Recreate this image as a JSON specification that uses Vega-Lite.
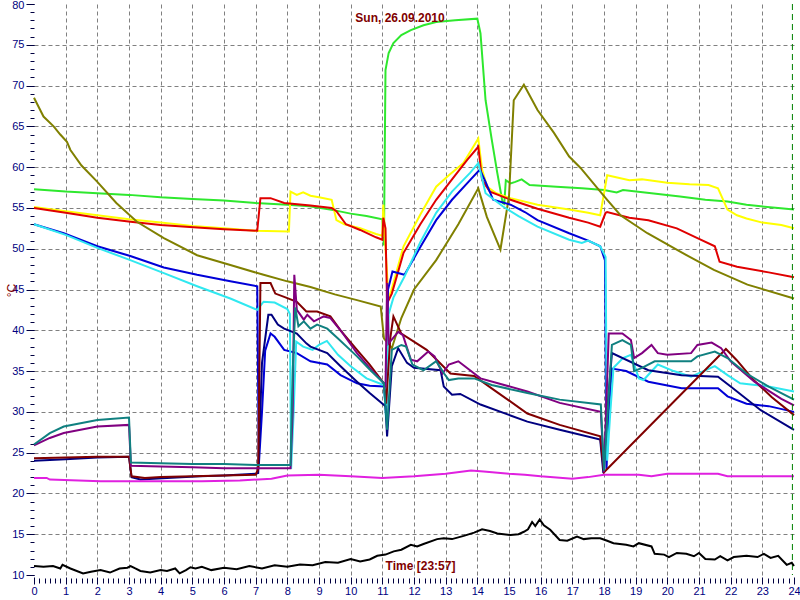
{
"$schema":"https://vega.github.io/schema/vega-lite/v6.json",
"width":760,"height":571,
"autosize":{"type":"none"},
"padding":{"left":34,"top":4,"right":6,"bottom":25},
"background":"white",
"config":{"view":{"stroke":null}},
"title":{"text":"Sun, 26.09.2010","color":"#800000","font":"Liberation Sans","fontSize":12,"fontWeight":"bold","anchor":"middle","offset":-20,"dx":-14,"dy":18,"baseline":"bottom"},
"datasets":{"d":[
{"s":"green","t":0,"v":57.3},{"s":"green","t":1,"v":57.0},{"s":"green","t":2,"v":56.8},{"s":"green","t":3,"v":56.6},{"s":"green","t":4,"v":56.3},{"s":"green","t":5,"v":56.1},{"s":"green","t":6,"v":55.9},{"s":"green","t":7,"v":55.6},{"s":"green","t":8,"v":55.4},{"s":"green","t":8.7,"v":55.2},{"s":"green","t":9.5,"v":54.7},{"s":"green","t":10,"v":54.3},{"s":"green","t":10.5,"v":54.0},{"s":"green","t":11.0,"v":53.6},{"s":"green","t":11.05,"v":50.4},{"s":"green","t":11.1,"v":71.9},{"s":"green","t":11.2,"v":74.0},{"s":"green","t":11.35,"v":75.2},{"s":"green","t":11.6,"v":76.2},{"s":"green","t":11.9,"v":76.8},{"s":"green","t":12.3,"v":77.4},{"s":"green","t":12.7,"v":77.8},{"s":"green","t":13.3,"v":78.0},{"s":"green","t":14.0,"v":78.2},{"s":"green","t":14.1,"v":76.4},{"s":"green","t":14.26,"v":68.2},{"s":"green","t":14.45,"v":63.5},{"s":"green","t":14.63,"v":59.3},{"s":"green","t":14.8,"v":55.6},{"s":"green","t":14.85,"v":55.5},{"s":"green","t":14.9,"v":58.4},{"s":"green","t":15.05,"v":58.0},{"s":"green","t":15.2,"v":58.2},{"s":"green","t":15.4,"v":58.5},{"s":"green","t":15.65,"v":57.8},{"s":"green","t":16.5,"v":57.6},{"s":"green","t":17.3,"v":57.4},{"s":"green","t":18.0,"v":57.2},{"s":"green","t":18.4,"v":56.9},{"s":"green","t":18.6,"v":57.2},{"s":"green","t":19.5,"v":56.8},{"s":"green","t":20.4,"v":56.4},{"s":"green","t":21.2,"v":56.0},{"s":"green","t":21.9,"v":55.8},{"s":"green","t":22.5,"v":55.4},{"s":"green","t":22.95,"v":55.2},{"s":"green","t":23.5,"v":55.0},{"s":"green","t":24,"v":54.8},
{"s":"yellow","t":0,"v":55.1},{"s":"yellow","t":1,"v":54.6},{"s":"yellow","t":2,"v":54.1},{"s":"yellow","t":3,"v":53.6},{"s":"yellow","t":4,"v":53.2},{"s":"yellow","t":5,"v":52.8},{"s":"yellow","t":6,"v":52.5},{"s":"yellow","t":7,"v":52.2},{"s":"yellow","t":8.05,"v":52.1},{"s":"yellow","t":8.1,"v":57.0},{"s":"yellow","t":8.3,"v":56.6},{"s":"yellow","t":8.5,"v":56.9},{"s":"yellow","t":8.73,"v":56.5},{"s":"yellow","t":9.0,"v":56.3},{"s":"yellow","t":9.4,"v":56.0},{"s":"yellow","t":9.55,"v":53.5},{"s":"yellow","t":9.8,"v":53.0},{"s":"yellow","t":10.3,"v":52.5},{"s":"yellow","t":10.8,"v":51.8},{"s":"yellow","t":11.0,"v":51.6},{"s":"yellow","t":11.03,"v":55.4},{"s":"yellow","t":11.1,"v":50},{"s":"yellow","t":11.2,"v":43.7},{"s":"yellow","t":11.4,"v":46.5},{"s":"yellow","t":11.67,"v":50.3},{"s":"yellow","t":12.2,"v":54.2},{"s":"yellow","t":12.7,"v":57.6},{"s":"yellow","t":13.1,"v":59.0},{"s":"yellow","t":13.56,"v":60.5},{"s":"yellow","t":14.03,"v":63.5},{"s":"yellow","t":14.15,"v":59.7},{"s":"yellow","t":14.31,"v":57.6},{"s":"yellow","t":14.6,"v":56.8},{"s":"yellow","t":15.05,"v":56.2},{"s":"yellow","t":15.9,"v":55.4},{"s":"yellow","t":16.9,"v":54.8},{"s":"yellow","t":17.5,"v":54.4},{"s":"yellow","t":17.88,"v":54.1},{"s":"yellow","t":18.1,"v":59.0},{"s":"yellow","t":18.8,"v":58.4},{"s":"yellow","t":19.2,"v":58.5},{"s":"yellow","t":20.0,"v":58.1},{"s":"yellow","t":20.7,"v":57.9},{"s":"yellow","t":21.3,"v":57.8},{"s":"yellow","t":21.6,"v":57.4},{"s":"yellow","t":21.9,"v":54.8},{"s":"yellow","t":22.2,"v":54.1},{"s":"yellow","t":22.5,"v":53.7},{"s":"yellow","t":23.0,"v":53.2},{"s":"yellow","t":23.6,"v":52.9},{"s":"yellow","t":24,"v":52.5},
{"s":"red","t":0,"v":55.0},{"s":"red","t":1,"v":54.4},{"s":"red","t":2,"v":53.8},{"s":"red","t":3.05,"v":53.3},{"s":"red","t":4,"v":52.9},{"s":"red","t":5.15,"v":52.6},{"s":"red","t":6,"v":52.4},{"s":"red","t":7.05,"v":52.2},{"s":"red","t":7.15,"v":56.2},{"s":"red","t":7.47,"v":56.2},{"s":"red","t":7.9,"v":55.6},{"s":"red","t":8.73,"v":55.3},{"s":"red","t":9.4,"v":55.0},{"s":"red","t":9.55,"v":54.6},{"s":"red","t":9.85,"v":53.0},{"s":"red","t":10.3,"v":52.3},{"s":"red","t":10.8,"v":51.4},{"s":"red","t":11.0,"v":51.1},{"s":"red","t":11.03,"v":53.8},{"s":"red","t":11.1,"v":52.5},{"s":"red","t":11.15,"v":43.3},{"s":"red","t":11.3,"v":44.5},{"s":"red","t":11.67,"v":49.5},{"s":"red","t":12.2,"v":53.0},{"s":"red","t":12.7,"v":56.0},{"s":"red","t":13.2,"v":58.5},{"s":"red","t":13.68,"v":60.9},{"s":"red","t":14.03,"v":62.5},{"s":"red","t":14.15,"v":58.4},{"s":"red","t":14.4,"v":57.0},{"s":"red","t":15.05,"v":56.0},{"s":"red","t":15.9,"v":54.9},{"s":"red","t":16.9,"v":53.8},{"s":"red","t":17.5,"v":53.2},{"s":"red","t":17.88,"v":52.7},{"s":"red","t":18.05,"v":54.4},{"s":"red","t":18.1,"v":54.5},{"s":"red","t":18.8,"v":53.8},{"s":"red","t":19.4,"v":53.5},{"s":"red","t":20.3,"v":52.5},{"s":"red","t":20.95,"v":51.3},{"s":"red","t":21.5,"v":50.3},{"s":"red","t":21.65,"v":48.4},{"s":"red","t":22.2,"v":47.8},{"s":"red","t":23.2,"v":47.1},{"s":"red","t":24,"v":46.5},
{"s":"olive","t":0,"v":68.5},{"s":"olive","t":0.3,"v":66.2},{"s":"olive","t":0.62,"v":65.0},{"s":"olive","t":0.83,"v":64.0},{"s":"olive","t":1.04,"v":63.1},{"s":"olive","t":1.15,"v":62.1},{"s":"olive","t":1.5,"v":60.2},{"s":"olive","t":2.0,"v":58.2},{"s":"olive","t":2.6,"v":55.6},{"s":"olive","t":3.25,"v":53.3},{"s":"olive","t":4.1,"v":51.3},{"s":"olive","t":5.15,"v":49.2},{"s":"olive","t":6.2,"v":48.0},{"s":"olive","t":7.25,"v":46.8},{"s":"olive","t":8.0,"v":46.0},{"s":"olive","t":8.73,"v":45.3},{"s":"olive","t":9.5,"v":44.4},{"s":"olive","t":10.2,"v":43.7},{"s":"olive","t":10.95,"v":42.9},{"s":"olive","t":11.05,"v":39.0},{"s":"olive","t":11.3,"v":37.8},{"s":"olive","t":11.6,"v":41.5},{"s":"olive","t":12.0,"v":45.0},{"s":"olive","t":12.7,"v":48.6},{"s":"olive","t":13.4,"v":53.0},{"s":"olive","t":14.03,"v":57.4},{"s":"olive","t":14.3,"v":53.9},{"s":"olive","t":14.73,"v":49.9},{"s":"olive","t":15.0,"v":56.4},{"s":"olive","t":15.15,"v":68.2},{"s":"olive","t":15.47,"v":70.1},{"s":"olive","t":15.9,"v":67.0},{"s":"olive","t":16.42,"v":64.2},{"s":"olive","t":16.9,"v":61.3},{"s":"olive","t":17.26,"v":59.9},{"s":"olive","t":18.1,"v":56.0},{"s":"olive","t":18.52,"v":54.1},{"s":"olive","t":19.37,"v":51.9},{"s":"olive","t":20.42,"v":49.6},{"s":"olive","t":21.47,"v":47.4},{"s":"olive","t":22.53,"v":45.6},{"s":"olive","t":24,"v":43.9},
{"s":"blue","t":0,"v":53.0},{"s":"blue","t":0.94,"v":51.9},{"s":"blue","t":2,"v":50.3},{"s":"blue","t":3.04,"v":49.1},{"s":"blue","t":4.1,"v":47.7},{"s":"blue","t":5.15,"v":46.8},{"s":"blue","t":6.2,"v":46.0},{"s":"blue","t":7.05,"v":45.4},{"s":"blue","t":7.1,"v":23.5},{"s":"blue","t":7.2,"v":30},{"s":"blue","t":7.3,"v":37.5},{"s":"blue","t":7.47,"v":39.6},{"s":"blue","t":7.6,"v":39.2},{"s":"blue","t":7.9,"v":37.6},{"s":"blue","t":8.3,"v":37.2},{"s":"blue","t":8.73,"v":36.2},{"s":"blue","t":9.26,"v":35.8},{"s":"blue","t":9.68,"v":34.5},{"s":"blue","t":10.2,"v":33.5},{"s":"blue","t":10.6,"v":33.2},{"s":"blue","t":11.05,"v":33.1},{"s":"blue","t":11.12,"v":30},{"s":"blue","t":11.18,"v":45.0},{"s":"blue","t":11.32,"v":47.2},{"s":"blue","t":11.7,"v":46.8},{"s":"blue","t":12.2,"v":50.2},{"s":"blue","t":12.7,"v":53.5},{"s":"blue","t":13.2,"v":56.0},{"s":"blue","t":13.77,"v":58.4},{"s":"blue","t":14.08,"v":59.7},{"s":"blue","t":14.26,"v":58.2},{"s":"blue","t":14.5,"v":56.0},{"s":"blue","t":15.05,"v":55.4},{"s":"blue","t":15.5,"v":54.5},{"s":"blue","t":15.9,"v":53.5},{"s":"blue","t":16.9,"v":51.9},{"s":"blue","t":17.5,"v":51.0},{"s":"blue","t":17.88,"v":50.3},{"s":"blue","t":18.03,"v":48.6},{"s":"blue","t":18.08,"v":23.0},{"s":"blue","t":18.15,"v":30},{"s":"blue","t":18.25,"v":35.3},{"s":"blue","t":18.7,"v":35.0},{"s":"blue","t":19.4,"v":33.7},{"s":"blue","t":20.45,"v":32.9},{"s":"blue","t":21.6,"v":32.9},{"s":"blue","t":21.9,"v":31.9},{"s":"blue","t":22.5,"v":31.0},{"s":"blue","t":23.2,"v":30.7},{"s":"blue","t":24,"v":30.0},
{"s":"cyan","t":0,"v":53.0},{"s":"cyan","t":1,"v":51.7},{"s":"cyan","t":2,"v":50.1},{"s":"cyan","t":3.04,"v":48.6},{"s":"cyan","t":4.1,"v":47.0},{"s":"cyan","t":5.15,"v":45.4},{"s":"cyan","t":6.2,"v":43.9},{"s":"cyan","t":7.05,"v":42.5},{"s":"cyan","t":7.25,"v":43.5},{"s":"cyan","t":7.6,"v":43.4},{"s":"cyan","t":8.0,"v":42.6},{"s":"cyan","t":8.08,"v":42.0},{"s":"cyan","t":8.12,"v":23.0},{"s":"cyan","t":8.2,"v":30},{"s":"cyan","t":8.28,"v":38.6},{"s":"cyan","t":8.5,"v":38.0},{"s":"cyan","t":8.8,"v":37.6},{"s":"cyan","t":9.0,"v":38.2},{"s":"cyan","t":9.25,"v":38.7},{"s":"cyan","t":9.6,"v":37.0},{"s":"cyan","t":10.0,"v":35.6},{"s":"cyan","t":10.5,"v":34.1},{"s":"cyan","t":11.05,"v":33.3},{"s":"cyan","t":11.12,"v":29.0},{"s":"cyan","t":11.2,"v":42.0},{"s":"cyan","t":11.35,"v":44.0},{"s":"cyan","t":11.7,"v":46.6},{"s":"cyan","t":12.2,"v":50.8},{"s":"cyan","t":12.7,"v":54.4},{"s":"cyan","t":13.2,"v":57.0},{"s":"cyan","t":13.77,"v":59.3},{"s":"cyan","t":14.03,"v":60.5},{"s":"cyan","t":14.26,"v":56.8},{"s":"cyan","t":14.8,"v":55.2},{"s":"cyan","t":15.3,"v":54.0},{"s":"cyan","t":15.9,"v":52.7},{"s":"cyan","t":16.9,"v":51.1},{"s":"cyan","t":17.3,"v":50.7},{"s":"cyan","t":17.5,"v":51.0},{"s":"cyan","t":17.88,"v":50.3},{"s":"cyan","t":18.05,"v":49.0},{"s":"cyan","t":18.1,"v":24},{"s":"cyan","t":18.2,"v":30},{"s":"cyan","t":18.3,"v":35.4},{"s":"cyan","t":18.6,"v":36.6},{"s":"cyan","t":18.85,"v":37.0},{"s":"cyan","t":19.1,"v":34.1},{"s":"cyan","t":19.25,"v":33.9},{"s":"cyan","t":19.7,"v":35.8},{"s":"cyan","t":20.2,"v":35.0},{"s":"cyan","t":20.75,"v":34.3},{"s":"cyan","t":21.5,"v":35.6},{"s":"cyan","t":21.9,"v":34.5},{"s":"cyan","t":22.3,"v":33.5},{"s":"cyan","t":23.2,"v":33.1},{"s":"cyan","t":24,"v":32.5},
{"s":"navy","t":0,"v":24.0},{"s":"navy","t":1,"v":24.2},{"s":"navy","t":2,"v":24.4},{"s":"navy","t":3.0,"v":24.5},{"s":"navy","t":3.08,"v":22.0},{"s":"navy","t":3.36,"v":21.7},{"s":"navy","t":4.2,"v":21.9},{"s":"navy","t":5.25,"v":22.1},{"s":"navy","t":6,"v":22.2},{"s":"navy","t":7.0,"v":22.4},{"s":"navy","t":7.08,"v":22.5},{"s":"navy","t":7.2,"v":36},{"s":"navy","t":7.4,"v":41.9},{"s":"navy","t":7.5,"v":41.9},{"s":"navy","t":7.7,"v":40.7},{"s":"navy","t":7.9,"v":40.2},{"s":"navy","t":8.3,"v":39.6},{"s":"navy","t":8.6,"v":38.4},{"s":"navy","t":8.73,"v":38.0},{"s":"navy","t":9.26,"v":37.2},{"s":"navy","t":9.68,"v":35.6},{"s":"navy","t":10.2,"v":33.7},{"s":"navy","t":10.6,"v":32.3},{"s":"navy","t":11.1,"v":30.7},{"s":"navy","t":11.15,"v":27.0},{"s":"navy","t":11.3,"v":35.6},{"s":"navy","t":11.5,"v":37.8},{"s":"navy","t":11.78,"v":36.0},{"s":"navy","t":12.0,"v":35.4},{"s":"navy","t":12.84,"v":35.1},{"s":"navy","t":12.94,"v":33.1},{"s":"navy","t":13.2,"v":32.1},{"s":"navy","t":13.46,"v":32.2},{"s":"navy","t":14.1,"v":30.9},{"s":"navy","t":15.58,"v":28.8},{"s":"navy","t":16.6,"v":27.8},{"s":"navy","t":17.88,"v":26.6},{"s":"navy","t":17.98,"v":22.5},{"s":"navy","t":18.1,"v":30},{"s":"navy","t":18.25,"v":37.2},{"s":"navy","t":19.4,"v":35.1},{"s":"navy","t":20.45,"v":34.5},{"s":"navy","t":21.6,"v":34.3},{"s":"navy","t":22.0,"v":33.1},{"s":"navy","t":22.95,"v":30.2},{"s":"navy","t":24,"v":27.8},
{"s":"maroon","t":0,"v":24.3},{"s":"maroon","t":1,"v":24.4},{"s":"maroon","t":2,"v":24.5},{"s":"maroon","t":3.0,"v":24.5},{"s":"maroon","t":3.08,"v":22.1},{"s":"maroon","t":3.5,"v":21.9},{"s":"maroon","t":4,"v":22.0},{"s":"maroon","t":5,"v":22.1},{"s":"maroon","t":6,"v":22.2},{"s":"maroon","t":7.0,"v":22.3},{"s":"maroon","t":7.08,"v":23},{"s":"maroon","t":7.15,"v":45.8},{"s":"maroon","t":7.47,"v":45.8},{"s":"maroon","t":7.62,"v":44.5},{"s":"maroon","t":7.9,"v":44.1},{"s":"maroon","t":8.3,"v":43.5},{"s":"maroon","t":8.6,"v":42.3},{"s":"maroon","t":8.94,"v":42.3},{"s":"maroon","t":9.36,"v":41.7},{"s":"maroon","t":9.68,"v":40.0},{"s":"maroon","t":10.2,"v":37.6},{"s":"maroon","t":10.6,"v":35.8},{"s":"maroon","t":11.05,"v":33.5},{"s":"maroon","t":11.12,"v":31},{"s":"maroon","t":11.25,"v":39},{"s":"maroon","t":11.35,"v":41.7},{"s":"maroon","t":11.6,"v":39.6},{"s":"maroon","t":12.4,"v":37.6},{"s":"maroon","t":13.15,"v":34.7},{"s":"maroon","t":13.9,"v":34.4},{"s":"maroon","t":14.52,"v":32.7},{"s":"maroon","t":15.58,"v":29.8},{"s":"maroon","t":16.6,"v":28.4},{"s":"maroon","t":17.88,"v":27.0},{"s":"maroon","t":18.0,"v":22.6},{"s":"maroon","t":21.85,"v":37.7},{"s":"maroon","t":22.2,"v":36.3},{"s":"maroon","t":22.7,"v":34.0},{"s":"maroon","t":23.3,"v":31.8},{"s":"maroon","t":24,"v":29.6},
{"s":"purple","t":0,"v":25.9},{"s":"purple","t":0.5,"v":26.8},{"s":"purple","t":0.94,"v":27.4},{"s":"purple","t":2,"v":28.2},{"s":"purple","t":3.0,"v":28.4},{"s":"purple","t":3.06,"v":23.4},{"s":"purple","t":4,"v":23.3},{"s":"purple","t":5,"v":23.2},{"s":"purple","t":6,"v":23.1},{"s":"purple","t":7,"v":23.1},{"s":"purple","t":8.1,"v":23.1},{"s":"purple","t":8.17,"v":30},{"s":"purple","t":8.22,"v":46.8},{"s":"purple","t":8.3,"v":42.5},{"s":"purple","t":8.52,"v":41.3},{"s":"purple","t":8.63,"v":41.9},{"s":"purple","t":8.84,"v":41.1},{"s":"purple","t":9.15,"v":41.7},{"s":"purple","t":9.36,"v":41.5},{"s":"purple","t":9.68,"v":40.0},{"s":"purple","t":10.2,"v":37.2},{"s":"purple","t":10.6,"v":35.4},{"s":"purple","t":11.05,"v":33.5},{"s":"purple","t":11.1,"v":33.0},{"s":"purple","t":11.15,"v":45.8},{"s":"purple","t":11.2,"v":38.4},{"s":"purple","t":11.5,"v":39.8},{"s":"purple","t":11.65,"v":39.4},{"s":"purple","t":11.9,"v":36.4},{"s":"purple","t":12.1,"v":36.2},{"s":"purple","t":12.45,"v":37.4},{"s":"purple","t":12.65,"v":36.8},{"s":"purple","t":12.9,"v":34.7},{"s":"purple","t":13.1,"v":35.8},{"s":"purple","t":13.4,"v":36.2},{"s":"purple","t":14.1,"v":34.1},{"s":"purple","t":15.58,"v":32.5},{"s":"purple","t":16.6,"v":31.1},{"s":"purple","t":17.9,"v":30.0},{"s":"purple","t":18.0,"v":22.6},{"s":"purple","t":18.15,"v":39.6},{"s":"purple","t":18.58,"v":39.6},{"s":"purple","t":18.85,"v":38.8},{"s":"purple","t":18.95,"v":36.6},{"s":"purple","t":19.2,"v":37.2},{"s":"purple","t":19.5,"v":38.2},{"s":"purple","t":19.7,"v":37.2},{"s":"purple","t":20.0,"v":37.0},{"s":"purple","t":20.75,"v":37.2},{"s":"purple","t":20.95,"v":38.2},{"s":"purple","t":21.4,"v":38.5},{"s":"purple","t":21.7,"v":37.8},{"s":"purple","t":22.0,"v":36.2},{"s":"purple","t":22.75,"v":33.7},{"s":"purple","t":23.6,"v":31.6},{"s":"purple","t":24,"v":30.8},
{"s":"teal","t":0,"v":26.0},{"s":"teal","t":0.5,"v":27.4},{"s":"teal","t":0.94,"v":28.2},{"s":"teal","t":2,"v":29.0},{"s":"teal","t":3.0,"v":29.3},{"s":"teal","t":3.06,"v":23.8},{"s":"teal","t":4,"v":23.7},{"s":"teal","t":5,"v":23.6},{"s":"teal","t":6,"v":23.6},{"s":"teal","t":7,"v":23.5},{"s":"teal","t":8.1,"v":23.5},{"s":"teal","t":8.17,"v":35},{"s":"teal","t":8.25,"v":42.8},{"s":"teal","t":8.35,"v":40.5},{"s":"teal","t":8.52,"v":41.1},{"s":"teal","t":8.73,"v":40.2},{"s":"teal","t":8.94,"v":40.7},{"s":"teal","t":9.26,"v":40.2},{"s":"teal","t":9.6,"v":39.0},{"s":"teal","t":10.2,"v":36.8},{"s":"teal","t":10.6,"v":35.2},{"s":"teal","t":11.05,"v":33.5},{"s":"teal","t":11.15,"v":27.8},{"s":"teal","t":11.3,"v":37.6},{"s":"teal","t":11.6,"v":38.2},{"s":"teal","t":11.75,"v":38.0},{"s":"teal","t":11.95,"v":35.8},{"s":"teal","t":12.3,"v":35.1},{"s":"teal","t":12.7,"v":36.2},{"s":"teal","t":12.95,"v":34.7},{"s":"teal","t":13.1,"v":33.9},{"s":"teal","t":13.4,"v":34.1},{"s":"teal","t":13.9,"v":34.1},{"s":"teal","t":14.45,"v":33.3},{"s":"teal","t":15.58,"v":32.3},{"s":"teal","t":16.6,"v":31.5},{"s":"teal","t":17.9,"v":30.9},{"s":"teal","t":18.0,"v":22.8},{"s":"teal","t":18.25,"v":38.2},{"s":"teal","t":18.58,"v":38.8},{"s":"teal","t":18.85,"v":38.2},{"s":"teal","t":18.95,"v":35.0},{"s":"teal","t":19.2,"v":35.4},{"s":"teal","t":19.6,"v":36.2},{"s":"teal","t":20.0,"v":36.2},{"s":"teal","t":20.75,"v":36.2},{"s":"teal","t":20.95,"v":36.8},{"s":"teal","t":21.5,"v":37.4},{"s":"teal","t":21.9,"v":36.6},{"s":"teal","t":22.5,"v":34.7},{"s":"teal","t":23.2,"v":33.1},{"s":"teal","t":24,"v":31.5},
{"s":"magenta","t":0,"v":21.9},{"s":"magenta","t":0.4,"v":21.9},{"s":"magenta","t":0.5,"v":21.7},{"s":"magenta","t":2.1,"v":21.5},{"s":"magenta","t":5.3,"v":21.5},{"s":"magenta","t":6.5,"v":21.6},{"s":"magenta","t":7.5,"v":21.8},{"s":"magenta","t":8.0,"v":22.2},{"s":"magenta","t":9,"v":22.3},{"s":"magenta","t":10,"v":22.1},{"s":"magenta","t":11,"v":21.9},{"s":"magenta","t":12,"v":22.1},{"s":"magenta","t":13,"v":22.4},{"s":"magenta","t":13.8,"v":22.8},{"s":"magenta","t":14.2,"v":22.7},{"s":"magenta","t":15,"v":22.4},{"s":"magenta","t":15.5,"v":22.3},{"s":"magenta","t":16,"v":22.1},{"s":"magenta","t":17,"v":21.8},{"s":"magenta","t":17.5,"v":22.0},{"s":"magenta","t":18,"v":22.3},{"s":"magenta","t":19.1,"v":22.3},{"s":"magenta","t":19.5,"v":22.1},{"s":"magenta","t":20,"v":22.4},{"s":"magenta","t":21,"v":22.4},{"s":"magenta","t":21.6,"v":22.4},{"s":"magenta","t":21.9,"v":22.1},{"s":"magenta","t":23,"v":22.1},{"s":"magenta","t":24,"v":22.1},
{"s":"black","t":0,"v":11.1},{"s":"black","t":0.3,"v":11.0},{"s":"black","t":0.6,"v":11.1},{"s":"black","t":0.83,"v":10.8},{"s":"black","t":0.9,"v":11.25},{"s":"black","t":1.15,"v":10.8},{"s":"black","t":1.55,"v":10.2},{"s":"black","t":1.8,"v":10.4},{"s":"black","t":2.1,"v":10.6},{"s":"black","t":2.4,"v":10.3},{"s":"black","t":2.7,"v":10.8},{"s":"black","t":2.95,"v":10.9},{"s":"black","t":3.05,"v":11.1},{"s":"black","t":3.2,"v":10.8},{"s":"black","t":3.36,"v":10.5},{"s":"black","t":3.67,"v":10.3},{"s":"black","t":4.0,"v":10.6},{"s":"black","t":4.2,"v":10.5},{"s":"black","t":4.46,"v":10.8},{"s":"black","t":4.6,"v":10.2},{"s":"black","t":4.8,"v":10.6},{"s":"black","t":4.94,"v":10.95},{"s":"black","t":5.1,"v":10.8},{"s":"black","t":5.3,"v":11.0},{"s":"black","t":5.6,"v":10.6},{"s":"black","t":6.0,"v":10.9},{"s":"black","t":6.4,"v":10.7},{"s":"black","t":6.8,"v":11.1},{"s":"black","t":7.2,"v":10.8},{"s":"black","t":7.6,"v":11.2},{"s":"black","t":8.0,"v":11.0},{"s":"black","t":8.4,"v":11.3},{"s":"black","t":8.8,"v":11.2},{"s":"black","t":9.2,"v":11.6},{"s":"black","t":9.6,"v":11.5},{"s":"black","t":10.0,"v":11.95},{"s":"black","t":10.3,"v":11.65},{"s":"black","t":10.6,"v":11.9},{"s":"black","t":10.84,"v":12.35},{"s":"black","t":11.1,"v":12.5},{"s":"black","t":11.36,"v":12.9},{"s":"black","t":11.6,"v":13.1},{"s":"black","t":11.9,"v":13.7},{"s":"black","t":12.1,"v":13.5},{"s":"black","t":12.3,"v":13.8},{"s":"black","t":12.73,"v":14.4},{"s":"black","t":12.94,"v":14.5},{"s":"black","t":13.2,"v":14.4},{"s":"black","t":13.57,"v":14.8},{"s":"black","t":13.9,"v":15.2},{"s":"black","t":14.15,"v":15.6},{"s":"black","t":14.4,"v":15.4},{"s":"black","t":14.63,"v":15.1},{"s":"black","t":15.05,"v":14.9},{"s":"black","t":15.3,"v":15.0},{"s":"black","t":15.47,"v":15.3},{"s":"black","t":15.6,"v":15.6},{"s":"black","t":15.73,"v":16.5},{"s":"black","t":15.83,"v":16.0},{"s":"black","t":15.97,"v":16.8},{"s":"black","t":16.1,"v":16.1},{"s":"black","t":16.3,"v":15.55},{"s":"black","t":16.6,"v":14.3},{"s":"black","t":16.84,"v":14.2},{"s":"black","t":17.15,"v":14.7},{"s":"black","t":17.36,"v":14.4},{"s":"black","t":17.6,"v":14.5},{"s":"black","t":17.88,"v":14.5},{"s":"black","t":18.1,"v":14.2},{"s":"black","t":18.3,"v":13.9},{"s":"black","t":18.7,"v":13.7},{"s":"black","t":18.93,"v":13.5},{"s":"black","t":19.1,"v":13.9},{"s":"black","t":19.5,"v":13.5},{"s":"black","t":19.6,"v":12.6},{"s":"black","t":19.9,"v":12.5},{"s":"black","t":20.05,"v":12.2},{"s":"black","t":20.3,"v":12.7},{"s":"black","t":20.6,"v":12.6},{"s":"black","t":20.84,"v":12.3},{"s":"black","t":21.0,"v":12.7},{"s":"black","t":21.2,"v":11.95},{"s":"black","t":21.5,"v":11.9},{"s":"black","t":21.67,"v":12.3},{"s":"black","t":21.9,"v":11.8},{"s":"black","t":22.1,"v":12.2},{"s":"black","t":22.5,"v":12.35},{"s":"black","t":22.85,"v":12.2},{"s":"black","t":23.05,"v":12.6},{"s":"black","t":23.26,"v":12.1},{"s":"black","t":23.5,"v":12.35},{"s":"black","t":23.77,"v":11.25},{"s":"black","t":23.93,"v":11.5},{"s":"black","t":24,"v":11.1}
],
"now":[{"t":23.95}]},
"data":{"name":"d"},
"layer":[
{"transform":[{"filter":"datum.s != 'black'"}],
 "mark":{"type":"line","strokeWidth":2},
 "encoding":{
  "x":{"field":"t","type":"quantitative","scale":{"domain":[0,24],"nice":false,"zero":false},
   "axis":{"orient":"bottom","values":[0,1,2,3,4,5,6,7,8,9,10,11,12,13,14,15,16,17,18,19,20,21,22,23,24],"offset":2,"tickSize":7,"tickColor":"#000040","domain":false,"grid":true,"gridColor":"#808080","gridDash":[4,3],"gridOpacity":{"condition":{"test":"datum.value==0||datum.value==24","value":0},"value":1},"labelColor":"#000080","labelFont":"Liberation Sans","labelFontSize":11,"labelPadding":1,"labelFlush":false,"labelOverlap":false,"title":"Time [23:57]","titleColor":"#800000","titleFont":"Liberation Sans","titleFontSize":12,"titleFontWeight":"bold","titleX":386,"titleY":-5,"titleBaseline":"bottom","titleAlign":"center"}},
  "y":{"field":"v","type":"quantitative","scale":{"domain":[10,80],"nice":false,"zero":false},
   "axis":{"orient":"left","values":[10,15,20,25,30,35,40,45,50,55,60,65,70,75,80],"tickSize":8,"tickColor":"#000040","domain":false,"grid":true,"gridColor":"#808080","gridDash":[4,3],"gridOpacity":{"condition":{"test":"datum.value==10||datum.value==80","value":0},"value":1},"labelColor":"#000080","labelFont":"Liberation Sans","labelFontSize":11,"labelPadding":2,"labelFlush":false,"labelOverlap":false,"labelOffset":{"condition":{"test":"datum.value==80","value":1},"value":0},"title":"°C","titleColor":"#800000","titleFont":"Liberation Sans","titleFontSize":12,"titleFontWeight":"normal","titleX":-23,"titleY":286,"titleAlign":"center","titleBaseline":"middle"}},
  "color":{"field":"s","type":"nominal","legend":null,
   "scale":{"domain":["magenta","olive","navy","maroon","purple","teal","blue","cyan","red","yellow","green"],
    "range":["#e020e0","#808000","#000080","#800000","#800080","#108080","#0000d8","#30e8f0","#e00000","#ffff00","#2ee82e"]}}
 }},
{"data":{"name":"now"},
 "mark":{"type":"rule","color":"#008000","strokeDash":[6,4],"strokeWidth":1},
 "encoding":{"x":{"field":"t","type":"quantitative",
   "axis":{"orient":"bottom","values":[0,0.1667,0.3333,0.5,0.6667,0.8333,1,1.1667,1.3333,1.5,1.6667,1.8333,2,2.1667,2.3333,2.5,2.6667,2.8333,3,3.1667,3.3333,3.5,3.6667,3.8333,4,4.1667,4.3333,4.5,4.6667,4.8333,5,5.1667,5.3333,5.5,5.6667,5.8333,6,6.1667,6.3333,6.5,6.6667,6.8333,7,7.1667,7.3333,7.5,7.6667,7.8333,8,8.1667,8.3333,8.5,8.6667,8.8333,9,9.1667,9.3333,9.5,9.6667,9.8333,10,10.1667,10.3333,10.5,10.6667,10.8333,11,11.1667,11.3333,11.5,11.6667,11.8333,12,12.1667,12.3333,12.5,12.6667,12.8333,13,13.1667,13.3333,13.5,13.6667,13.8333,14,14.1667,14.3333,14.5,14.6667,14.8333,15,15.1667,15.3333,15.5,15.6667,15.8333,16,16.1667,16.3333,16.5,16.6667,16.8333,17,17.1667,17.3333,17.5,17.6667,17.8333,18,18.1667,18.3333,18.5,18.6667,18.8333,19,19.1667,19.3333,19.5,19.6667,19.8333,20,20.1667,20.3333,20.5,20.6667,20.8333,21,21.1667,21.3333,21.5,21.6667,21.8333,22,22.1667,22.3333,22.5,22.6667,22.8333,23,23.1667,23.3333,23.5,23.6667,23.8333,24],"offset":3,"tickSize":5,"tickColor":"#000040","domain":false,"grid":false,"labels":false,"title":null}}}},
{"transform":[{"filter":"datum.s == 'black'"}],
 "mark":{"type":"line","color":"#000000","strokeWidth":2},
 "encoding":{
  "x":{"field":"t","type":"quantitative","axis":null},
  "y":{"field":"v","type":"quantitative",
   "axis":{"orient":"left","values":[10,11,12,13,14,15,16,17,18,19,20,21,22,23,24,25,26,27,28,29,30,31,32,33,34,35,36,37,38,39,40,41,42,43,44,45,46,47,48,49,50,51,52,53,54,55,56,57,58,59,60,61,62,63,64,65,66,67,68,69,70,71,72,73,74,75,76,77,78,79,80],"tickSize":4,"tickColor":"#000040","domain":false,"grid":false,"labels":false,"title":null}}
 }}
],
"resolve":{"axis":{"x":"independent","y":"independent"}}
}
